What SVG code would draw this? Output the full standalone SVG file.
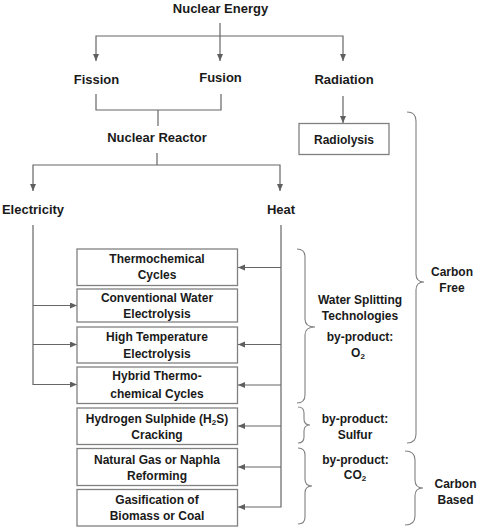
<svg xmlns="http://www.w3.org/2000/svg" width="480" height="527" viewBox="0 0 480 527">
<defs>
<marker id="ah" markerUnits="userSpaceOnUse" markerWidth="8" markerHeight="7" refX="7" refY="3" orient="auto">
<path d="M0,0 L7,3 L0,6 z" fill="#5f5f5f"/>
</marker>
<style>
.t{font-family:"Liberation Sans",Arial,sans-serif;font-weight:bold;fill:#1a1a1a;text-anchor:middle}
.m{font-size:13px}
.s{font-size:12px}
.c{fill:none;stroke:#666;stroke-width:1.2}
.a{marker-end:url(#ah)}
.b{fill:#fff;stroke:#808080;stroke-width:1.3}
.br{fill:none;stroke:#808080;stroke-width:1.1}
</style>
</defs>
<rect width="480" height="527" fill="#fff"/>
<g id="connectors">
<path class="c a" d="M220,23 V61"/>
<path class="c a" d="M220,36 H96 V61"/>
<path class="c a" d="M220,36 H343 V61"/>
<path class="c" d="M96,94 V110 H221 V94"/>
<path class="c" d="M158,110 V126"/>
<path class="c a" d="M343,96 V123"/>
<path class="c" d="M157,153 V165"/>
<path class="c a" d="M157,165 H33 V191"/>
<path class="c a" d="M157,165 H280 V191"/>
<path class="c a" d="M33,225 V384.5 H77"/>
<path class="c a" d="M33,305.5 H77"/>
<path class="c a" d="M33,344.5 H77"/>
<path class="c a" d="M281,225 V507 H238"/>
<path class="c a" d="M281,267.5 H238"/>
<path class="c a" d="M281,344.5 H238"/>
<path class="c a" d="M281,385 H238"/>
<path class="c a" d="M281,426 H238"/>
<path class="c a" d="M281,467 H238"/>
</g>
<g id="nuclear-energy"><text class="t m" x="220.5" y="13">Nuclear Energy</text></g>
<g id="fission"><text class="t m" x="96.5" y="84">Fission</text></g>
<g id="fusion"><text class="t m" x="220.5" y="82">Fusion</text></g>
<g id="radiation"><text class="t m" x="344" y="84">Radiation</text></g>
<g id="radiolysis"><rect class="b" x="299" y="123.5" width="90" height="31"/><text class="t s" x="344" y="144">Radiolysis</text></g>
<g id="nuclear-reactor"><text class="t m" x="157" y="142">Nuclear Reactor</text></g>
<g id="electricity"><text class="t m" x="33" y="214">Electricity</text></g>
<g id="heat"><text class="t m" x="281" y="214">Heat</text></g>
<g id="thermochemical"><rect class="b" x="77" y="249" width="160.5" height="36.5"/><text class="t s" x="157" y="262.5">Thermochemical</text><text class="t s" x="157" y="279">Cycles</text></g>
<g id="conventional"><rect class="b" x="77" y="289" width="160.5" height="33"/><text class="t s" x="157" y="301.5">Conventional Water</text><text class="t s" x="157" y="317.5">Electrolysis</text></g>
<g id="high-temp"><rect class="b" x="77" y="327" width="160.5" height="36"/><text class="t s" x="157" y="340.5">High Temperature</text><text class="t s" x="157" y="357.5">Electrolysis</text></g>
<g id="hybrid"><rect class="b" x="77" y="367" width="160.5" height="36.5"/><text class="t s" x="157" y="380">Hybrid Thermo-</text><text class="t s" x="157" y="397.5">chemical Cycles</text></g>
<g id="h2s"><rect class="b" x="77" y="408" width="160.5" height="36.5"/><text class="t s" x="157" y="422.5">Hydrogen Sulphide (H<tspan font-size="8" dy="2">2</tspan><tspan dy="-2">S)</tspan></text><text class="t s" x="157" y="438.5">Cracking</text></g>
<g id="natural-gas"><rect class="b" x="77" y="448.5" width="160.5" height="37"/><text class="t s" x="157" y="463.5">Natural Gas or Naphla</text><text class="t s" x="157" y="479.5">Reforming</text></g>
<g id="gasification"><rect class="b" x="77" y="489.5" width="160.5" height="36.5"/><text class="t s" x="157" y="504">Gasification of</text><text class="t s" x="157" y="520">Biomass or Coal</text></g>
<g id="brace-water"><path class="br" d="M297,249 Q305,249 305,257 V319 Q305,327 315,327 Q305,327 305,335 V395 Q305,403 297,403"/></g>
<g id="brace-sulfur"><path class="br" d="M298,407 Q304,407 304,413 V419 Q304,425 310,425 Q304,425 304,431 V437 Q304,443 298,443"/></g>
<g id="brace-co2"><path class="br" d="M298,448 Q305,448 305,455 V479 Q305,486 312,486 Q305,486 305,493 V517 Q305,524 298,524"/></g>
<g id="brace-carbon-free"><path class="br" d="M407,112 Q416,112 416,121 V274 Q416,282 424,282 Q416,282 416,290 V434 Q416,443 407,443"/></g>
<g id="brace-carbon-based"><path class="br" d="M405,451 Q415,451 415,460 V480 Q415,488 423,488 Q415,488 415,496 V516 Q415,525 405,525"/></g>
<g id="label-water"><text class="t s" x="360" y="303.5">Water Splitting</text><text class="t s" x="360" y="319.5">Technologies</text><text class="t s" x="360" y="340.5">by-product:</text><text class="t s" x="358" y="357">O<tspan font-size="8" dy="2">2</tspan></text></g>
<g id="label-sulfur"><text class="t s" x="355" y="422.5">by-product:</text><text class="t s" x="355" y="438.5">Sulfur</text></g>
<g id="label-co2"><text class="t s" x="355.5" y="463.5">by-product:</text><text class="t s" x="355" y="479">CO<tspan font-size="8" dy="2">2</tspan></text></g>
<g id="label-carbon-free"><text class="t s" x="452" y="275.5">Carbon</text><text class="t s" x="452" y="292">Free</text></g>
<g id="label-carbon-based"><text class="t s" x="455.5" y="487.5">Carbon</text><text class="t s" x="455.5" y="504">Based</text></g>
</svg>
